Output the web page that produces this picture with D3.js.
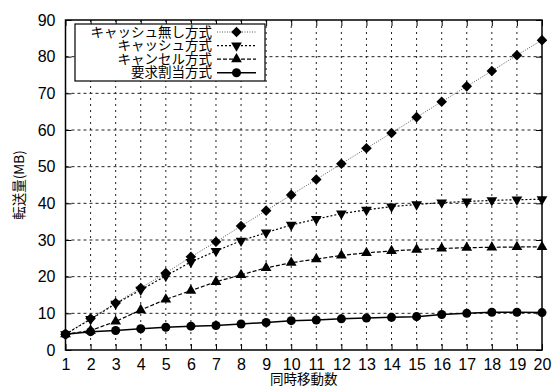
<!DOCTYPE html>
<html>
<head>
<meta charset="utf-8">
<script src="https://cdn.jsdelivr.net/npm/d3@7"></script>
<style>
  body { margin: 0; background: #fff; }
  svg { display: block; font-family: "Noto Sans CJK JP", "Noto Sans", sans-serif; }
</style>
</head>
<body>
<div class="container"></div>
<script>
var width = 553;
var height = 390;
var margin = {left: 65.5, right: 11, top: 20, bottom: 40};
var innerWidth = width - margin.left - margin.right;
var innerHeight = height - margin.top - margin.bottom;

// x: 同時移動数
var moves = d3.range(1, 21);
var yTicks = [0, 10, 20, 30, 40, 50, 60, 70, 80, 90];

var noCache = [4.3, 8.6, 12.8, 16.9, 21.0, 25.4, 29.5, 33.8, 38.0, 42.3, 46.5, 50.8, 55.0, 59.2, 63.5, 67.7, 71.9, 76.1, 80.4, 84.5];
var cache = [4.3, 8.4, 12.6, 16.4, 20.2, 24.0, 27.0, 29.8, 32.0, 34.1, 35.7, 37.2, 38.2, 39.1, 39.7, 40.2, 40.5, 40.8, 41.0, 41.1];
var cancel = [4.3, 5.3, 7.8, 10.9, 13.8, 16.2, 18.6, 20.5, 22.4, 23.8, 24.8, 25.8, 26.5, 27.0, 27.4, 27.7, 27.9, 28.0, 28.1, 28.1];
var demand = [4.3, 5.0, 5.3, 5.8, 6.2, 6.5, 6.7, 7.1, 7.5, 8.0, 8.2, 8.5, 8.7, 8.9, 9.1, 9.7, 10.0, 10.3, 10.3, 10.2];

var seriesNames = ['キャッシュ無し方式', 'キャッシュ方式', 'キャンセル方式', '要求割当方式'];
var seriesValues = [noCache, cache, cancel, demand];

var styles = [
  {dash: '1,1.5', color: '#555', width: 1, symbol: d3.symbolSquare, size: 56, rotate: 45},
  {dash: '2,2', color: '#000', width: 1.2, symbol: d3.symbolTriangle, size: 50, rotate: 180},
  {dash: '4,2', color: '#000', width: 1.2, symbol: d3.symbolTriangle, size: 50, rotate: 0},
  {dash: null, color: '#000', width: 1.5, symbol: d3.symbolCircle, size: 64, rotate: 0}
];

var translate = function(x, y) {
  return 'translate(' + x + ',' + y + ')';
};

var XScale = d3.scaleLinear().domain([1, 20]).range([0, innerWidth]);
var YScale = d3.scaleLinear().domain([0, 90]).range([innerHeight, 0]);

var svg = d3.select('.container').append('svg')
  .attr('width', width)
  .attr('height', height);

var g = svg.append('g').attr('transform', translate(margin.left, margin.top));

// grid
g.append('g').selectAll('line')
  .data(moves.slice(1, -1))
  .enter().append('line')
  .attr('x1', function(d) { return XScale(d); })
  .attr('x2', function(d) { return XScale(d); })
  .attr('y1', 0).attr('y2', innerHeight)
  .attr('stroke', '#222').attr('stroke-width', 1)
  .attr('stroke-dasharray', '2,4');

g.append('g').selectAll('line')
  .data(yTicks.slice(1, -1))
  .enter().append('line')
  .attr('x1', 0).attr('x2', innerWidth)
  .attr('y1', function(d) { return YScale(d); })
  .attr('y2', function(d) { return YScale(d); })
  .attr('stroke', '#222').attr('stroke-width', 1)
  .attr('stroke-dasharray', '3,3');

// axes (ticks inward, mirrored)
var xAxis = d3.axisBottom(XScale).tickValues(moves).tickSizeInner(-6).tickSizeOuter(0).tickPadding(9);
var yAxis = d3.axisLeft(YScale).tickValues(yTicks).tickSizeInner(-6).tickSizeOuter(0).tickPadding(10);

var gx = g.append('g').attr('transform', translate(0, innerHeight)).call(xAxis);
var gy = g.append('g').call(yAxis);
g.append('g').call(d3.axisTop(XScale).tickValues(moves).tickSizeInner(-6).tickSizeOuter(0).tickFormat(''));
g.append('g').attr('transform', translate(innerWidth, 0))
  .call(d3.axisRight(YScale).tickValues(yTicks).tickSizeInner(-6).tickSizeOuter(0).tickFormat(''));

g.selectAll('.domain').remove();
g.selectAll('.tick line').attr('stroke', '#000');
gx.selectAll('text').attr('font-size', 16).attr('fill', '#000');
gy.selectAll('text').attr('font-size', 16).attr('fill', '#000');

g.append('rect')
  .attr('width', innerWidth).attr('height', innerHeight)
  .attr('fill', 'none').attr('stroke', '#000').attr('stroke-width', 1.5);

// series
var line = d3.line()
  .x(function(d, i) { return XScale(moves[i]); })
  .y(function(d) { return YScale(d); });

var marker = function(st) {
  return d3.symbol().type(st.symbol).size(st.size)();
};

seriesValues.forEach(function(values, k) {
  var st = styles[k];
  g.append('path')
    .attr('d', line(values))
    .attr('fill', 'none')
    .attr('stroke', st.color)
    .attr('stroke-width', st.width)
    .attr('stroke-dasharray', st.dash);
  g.append('g').selectAll('path')
    .data(values)
    .enter().append('path')
    .attr('d', marker(st))
    .attr('transform', function(d, i) {
      return translate(XScale(moves[i]), YScale(d)) + ' rotate(' + st.rotate + ')';
    })
    .attr('fill', '#000');
});

// legend
var legend = svg.append('g').attr('transform', translate(75, 24));
legend.append('rect')
  .attr('width', 190).attr('height', 57)
  .attr('fill', '#fff').attr('stroke', '#000').attr('stroke-width', 1.2);

seriesNames.forEach(function(name, k) {
  var st = styles[k];
  var y = 8 + k * 13.6;
  legend.append('text')
    .attr('x', 137).attr('y', y + 4.5)
    .attr('text-anchor', 'end')
    .attr('font-size', 13.5)
    .text(name);
  legend.append('line')
    .attr('x1', 142).attr('x2', 181)
    .attr('y1', y).attr('y2', y)
    .attr('stroke', st.color)
    .attr('stroke-width', st.width)
    .attr('stroke-dasharray', st.dash);
  legend.append('path')
    .attr('d', marker(st))
    .attr('transform', translate(161.5, y) + ' rotate(' + st.rotate + ')')
    .attr('fill', '#000');
});

// axis titles
svg.append('text')
  .attr('x', margin.left + innerWidth / 2).attr('y', 384)
  .attr('text-anchor', 'middle').attr('font-size', 13.5)
  .text('同時移動数');

svg.append('text')
  .attr('transform', translate(24, 185) + ' rotate(-90)')
  .attr('text-anchor', 'middle').attr('font-size', 13.5)
  .text('転送量(MB)');
</script>
</body>
</html>
